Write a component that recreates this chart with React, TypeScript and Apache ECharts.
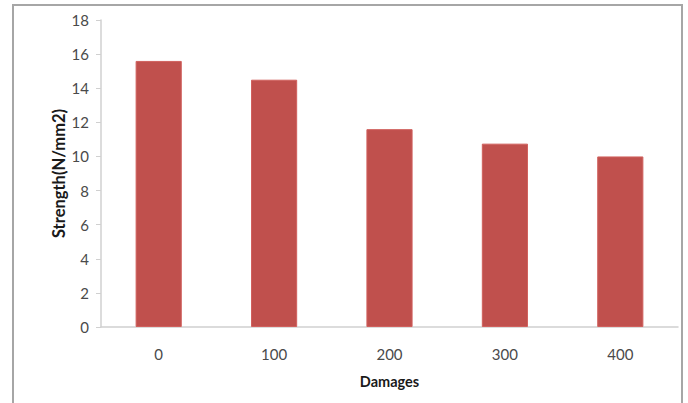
import React, { useEffect, useRef } from "react";
import * as echarts from "echarts";

const categories = ["0", "100", "200", "300", "400"];
const strength = [15.6, 14.5, 11.6, 10.75, 10.0];
const yTicks = { min: 0, max: 18, interval: 2 };

export default function App() {
  const ref = useRef<HTMLDivElement>(null);
  useEffect(() => {
    const chart = echarts.init(ref.current!, null, { renderer: "svg" });
    chart.setOption({
      animation: false,
      backgroundColor: "#ffffff",
      textStyle: { fontFamily: "Lato" },
      graphic: [
        {
          type: "rect",
          shape: { x: 13, y: 5, width: 669, height: 420 },
          style: { fill: "none", stroke: "#a6a6a6", lineWidth: 2 },
          silent: true,
        },
      ],
      grid: { left: 101, top: 20, right: 10, bottom: 76 },
      xAxis: {
        type: "category",
        data: categories,
        name: "Damages",
        nameLocation: "middle",
        nameGap: 47,
        nameTextStyle: { fontWeight: "bold", fontSize: 14.5, color: "#1a1a1a", fontFamily: "Lato" },
        axisLine: { lineStyle: { color: "#d0d0d0", width: 1.5 } },
        axisTick: { show: false },
        axisLabel: { color: "#4a4a4a", fontSize: 15, margin: 19, fontFamily: "Lato" },
      },
      yAxis: {
        type: "value",
        min: yTicks.min,
        max: yTicks.max,
        interval: yTicks.interval,
        name: "Strength(N/mm2)",
        nameLocation: "middle",
        nameGap: 34,
        nameMoveOverlap: false,
        nameTextStyle: { fontWeight: "bold", fontSize: 16.5, color: "#1a1a1a", fontFamily: "Lato" },
        axisLine: { show: true, lineStyle: { color: "#d0d0d0", width: 1.5 } },
        axisTick: { show: true, inside: false, length: 5, lineStyle: { color: "#d0d0d0" } },
        axisLabel: { color: "#4a4a4a", fontSize: 15, margin: 12, fontFamily: "Lato" },
        splitLine: { show: false },
      },
      series: [
        {
          type: "bar",
          data: strength,
          barWidth: "40%",
          itemStyle: { color: "#c0504d", borderColor: "#d0605d", borderWidth: 1 },
        },
      ],
    });
    return () => chart.dispose();
  }, []);
  return (
    <div
      ref={ref}
      style={{ position: "fixed", left: 0, top: 0, width: 688, height: 403 }}
    />
  );
}
